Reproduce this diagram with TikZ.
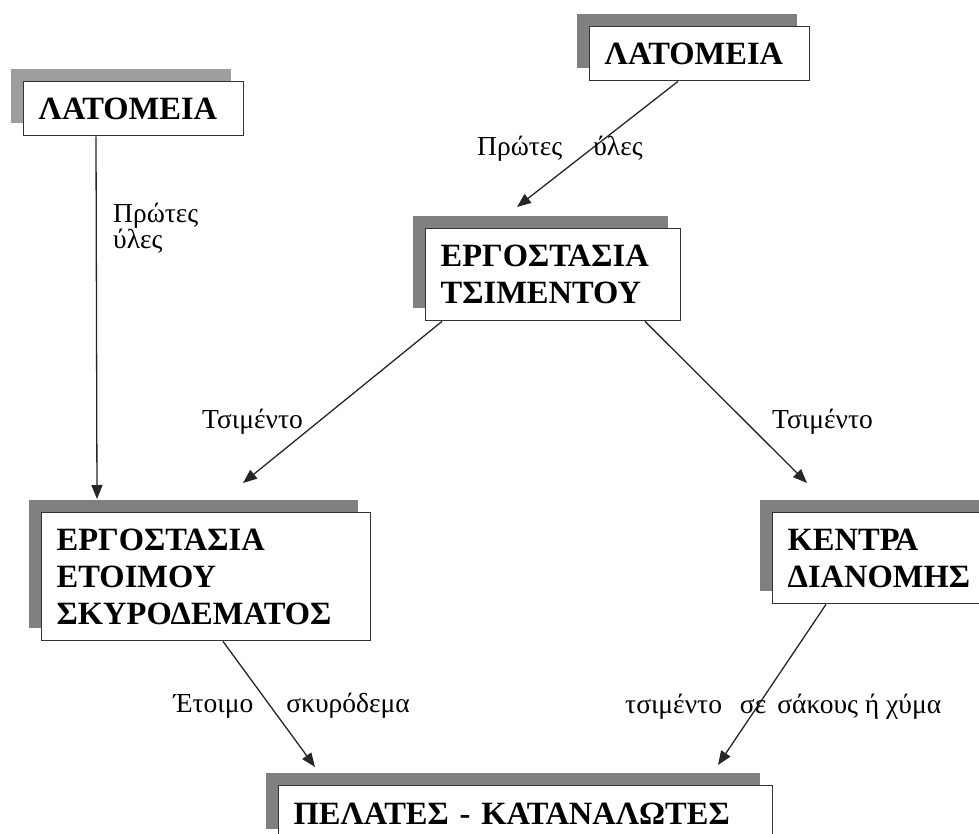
\documentclass[tikz,border=0pt]{standalone}
\usepackage{fontspec}
\setmainfont{Liberation Serif}
\usepackage{xcolor}
\usetikzlibrary{arrows.meta, shadows}
\definecolor{shadowgray}{RGB}{128,128,128}
\definecolor{paleshadow}{RGB}{158,158,158}

\begin{document}
\begin{tikzpicture}[x=1pt, y=-1pt,
  unit/.style={draw=black!80, line width=1.4pt, fill=white, anchor=north west, align=left,
    inner xsep=15pt, inner ysep=0pt, font=\bfseries\fontsize{32.5}{37}\selectfont},
  backshadow/.style={drop shadow={shadow xshift=-12.5pt, shadow yshift=12.5pt, fill=#1, opacity=1}},
  backshadow/.default=shadowgray,
  flow/.style={font=\fontsize{27.5}{26}\selectfont, inner sep=0pt, align=left, anchor=base west},
  arr/.style={-{Triangle[length=14pt, width=11pt]}, line width=1.3pt, black!85}
]
  \useasboundingbox (0,0) rectangle (979,834);
  \clip (0,0) rectangle (979,834);

  % boxes
  \node[unit, backshadow=paleshadow, text width=190pt, minimum height=54pt] (lat1) at (23,81) {ΛΑΤΟΜΕΙΑ};
  \node[unit, backshadow, text width=190pt, minimum height=54pt] (lat2) at (589,26) {ΛΑΤΟΜΕΙΑ};
  \node[unit, backshadow, text width=225pt, minimum height=92pt] (cem) at (425,228) {ΕΡΓΟΣΤΑΣΙΑ\\ΤΣΙΜΕΝΤΟΥ};
  \node[unit, backshadow, text width=299pt, minimum height=128pt] (rmc) at (41,512) {ΕΡΓΟΣΤΑΣΙΑ\\ΕΤΟΙΜΟΥ\\ΣΚΥΡΟΔΕΜΑΤΟΣ};
  \node[unit, backshadow, text width=200pt, minimum height=91pt] (dist) at (772,512) {ΚΕΝΤΡΑ\\ΔΙΑΝΟΜΗΣ};
  \node[unit, backshadow, text width=464pt, minimum height=56pt] (cli) at (278,785) {ΠΕΛΑΤΕΣ - ΚΑΤΑΝΑΛΩΤΕΣ};

  % flows
  \draw[arr] ([xshift=73pt]lat1.south west) -- ([xshift=56pt, yshift=13pt]rmc.north west);
  \draw[arr] ([xshift=89pt]lat2.south west) -- ([xshift=92pt, yshift=21pt]cem.north west);
  \draw[arr] ([xshift=17pt]cem.south west) -- ([xshift=202pt, yshift=29pt]rmc.north west);
  \draw[arr] ([xshift=220pt]cem.south west) -- ([xshift=35pt, yshift=29pt]dist.north west);
  \draw[arr] ([xshift=182pt]rmc.south west) -- ([xshift=37pt, yshift=18pt]cli.north west);
  \draw[arr] ([xshift=54pt]dist.south west) -- ([xshift=440pt, yshift=20pt]cli.north west);

  % labels
  \node[flow] (rawa) at (113,249) {Πρώτες\\ύλες};
  \node[flow] (rawb) at (477,156) {Πρώτες\hspace{31pt}ύλες};
  \foreach \n/\x in {cema/202, cemb/772}{
    \node[flow] (\n) at (\x,428) {Τσιμέντο};
  }
  \node[flow, anchor=base east] (conc) at (410,712) {Έτοιμο\hspace{33pt}σκυρόδεμα};
  \node[flow] (bags) at (625,713) {τσιμέντο\hspace{18pt}σε\hspace{11pt}σάκους ή χύμα};
\end{tikzpicture}
\end{document}
